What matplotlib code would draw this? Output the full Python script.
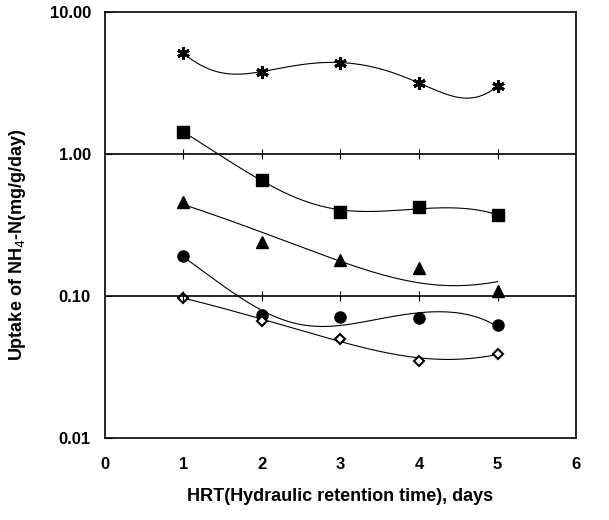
import numpy as np
import matplotlib.pyplot as plt

plt.rcParams['font.family'] = ['Liberation Sans', 'DejaVu Sans']

# HRT, days
hrt = [1, 2, 3, 4, 5]

# uptake of NH4-N (mg/g/day)
star = [5.1, 3.8, 4.4, 3.16, 3.0]
square = [1.43, 0.656, 0.39, 0.42, 0.37]
triangle = [0.46, 0.24, 0.18, 0.158, 0.108]
circle = [0.19, 0.073, 0.071, 0.070, 0.062]
diamond = [0.097, 0.067, 0.050, 0.035, 0.039]

x_ticks = [0, 1, 2, 3, 4, 5, 6]
y_ticks = [0.01, 0.1, 1, 10]
y_labels = ['0.01', '0.10', '1.00', '10.00']

fig = plt.figure(figsize=(6.09, 5.2), dpi=100)
ax = fig.add_axes([0.172, 0.158, 0.774, 0.819])
ax.set_yscale('log')
ax.set_xlim(0, 6)
ax.set_ylim(0.01, 10)

xs = np.linspace(1, 5, 200)
series = [
    (star, 4, dict(marker=(6, 2, 0), ms=9, mew=2.2, mfc='black')),
    (square, 3, dict(marker='s', ms=8)),
    (triangle, 2, dict(marker='^', ms=8)),
    (circle, 3, dict(marker='o', ms=8)),
    (diamond, 3, dict(marker='D', ms=5, mfc='white', mew=1.5)),
]
for vals, order, style in series:
    # polynomial trend line, as in the original spreadsheet chart
    coef = np.polyfit(hrt, vals, order)
    ax.plot(xs, np.polyval(coef, xs), color='black', lw=0.8)
    ax.plot(hrt, vals, ls='none', color='black', mec='black', **style)

for g in [0.1, 1]:
    ax.axhline(g, color='black', lw=1.2)
    ax.plot(hrt, [g] * len(hrt), ls='none', marker='|', ms=7, color='black', mew=0.8)

ax.set_xticks(x_ticks)
ax.set_xticklabels([str(t) for t in x_ticks], fontsize=12, fontweight='bold')
ax.set_yticks(y_ticks)
ax.set_yticklabels(y_labels, fontsize=12, fontweight='bold')
ax.yaxis.set_minor_locator(plt.NullLocator())
ax.tick_params(axis='x', length=0, pad=14)
ax.tick_params(axis='y', length=5, direction='in', pad=10)

ax.set_xlabel('HRT(Hydraulic retention time), days', fontsize=13,
              fontweight='bold', labelpad=11)
ax.set_ylabel('Uptake of NH$_4$-N(mg/g/day)', fontsize=13,
              fontweight='bold', va='center')
ax.yaxis.set_label_coords(-0.185, 0.453)

for s in ax.spines.values():
    s.set_linewidth(1.2)

fig.savefig('out.png', dpi=100)
